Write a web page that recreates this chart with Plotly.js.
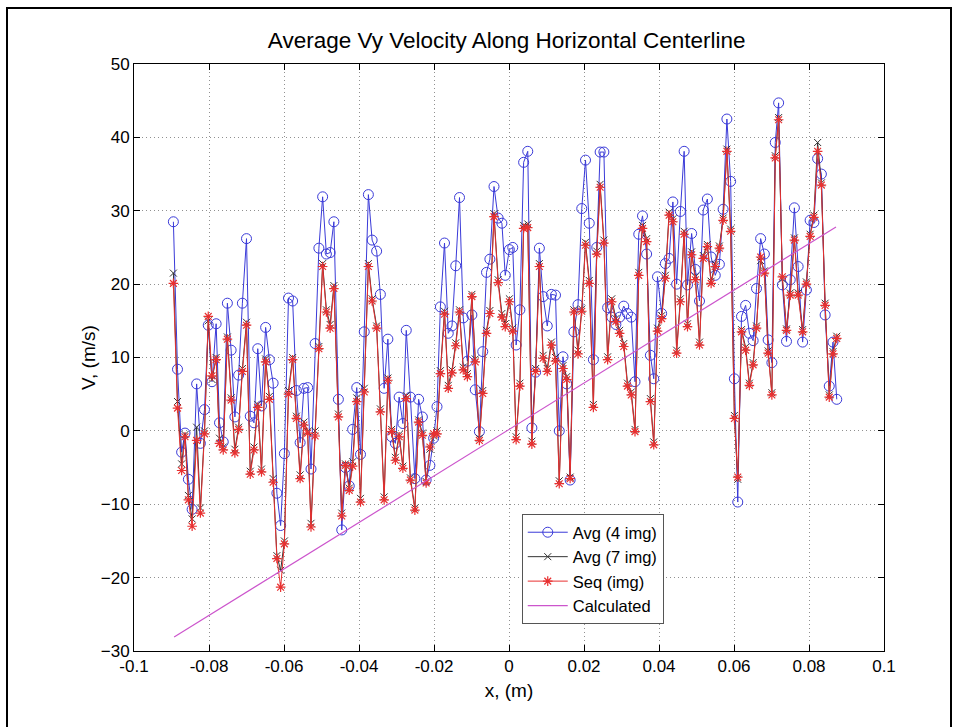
<!DOCTYPE html>
<html><head><meta charset="utf-8">
<script src="https://cdn.plot.ly/plotly-3.0.1.min.js"></script>
<style>
html,body{margin:0;padding:0;background:#fff;}
#frame{position:absolute;left:6px;top:7px;width:946px;height:740px;border:2px solid #000;box-sizing:border-box;pointer-events:none;z-index:5;}
#chart{position:absolute;left:0;top:0;width:959px;height:727px;}
</style>
</head><body>
<div id="chart"></div><div id="frame"></div>
<script>
// x positions along the centerline (m)
const xPos = [-0.0895,-0.0884,-0.0873,-0.0864,-0.0855,-0.0845,-0.0833,-0.0823,-0.0812,-0.0802,
-0.0792,-0.0781,-0.0772,-0.0762,-0.0751,-0.0741,-0.0731,-0.0721,-0.0711,-0.0700,
-0.0690,-0.0680,-0.0670,-0.0660,-0.0649,-0.0639,-0.0629,-0.0619,-0.0609,-0.0599,
-0.0588,-0.0577,-0.0567,-0.0557,-0.0547,-0.0537,-0.0528,-0.0517,-0.0507,-0.0497,
-0.0487,-0.0477,-0.0467,-0.0455,-0.0446,-0.0436,-0.0426,-0.0417,-0.0406,-0.0396,
-0.0386,-0.0375,-0.0365,-0.0353,-0.0343,-0.0333,-0.0323,-0.0313,-0.0303,-0.0293,
-0.0283,-0.0274,-0.0263,-0.0251,-0.0241,-0.0231,-0.0221,-0.0211,-0.0201,-0.0192,
-0.0183,-0.0172,-0.0162,-0.0152,-0.0142,-0.0132,-0.0122,-0.0111,-0.0099,-0.0090,
-0.0079,-0.0070,-0.0060,-0.0051,-0.0040,-0.0029,-0.0019,-0.0010,0.0001,0.0010,
0.0019,0.0029,0.0039,0.0050,0.0061,0.0071,0.0081,0.0091,0.0102,0.0113,
0.0124,0.0134,0.0144,0.0154,0.0163,0.0173,0.0184,0.0194,0.0204,0.0214,
0.0225,0.0234,0.0243,0.0253,0.0263,0.0274,0.0285,0.0295,0.0306,0.0316,
0.0326,0.0336,0.0346,0.0356,0.0367,0.0377,0.0386,0.0396,0.0407,0.0417,
0.0427,0.0437,0.0447,0.0457,0.0467,0.0476,0.0487,0.0497,0.0508,0.0518,
0.0529,0.0539,0.0550,0.0561,0.0571,0.0581,0.0591,0.0601,0.0610,0.0620,
0.0631,0.0641,0.0651,0.0660,0.0671,0.0681,0.0691,0.0701,0.0710,0.0719,
0.0729,0.0740,0.0750,0.0761,0.0771,0.0783,0.0793,0.0803,0.0813,0.0823,
0.0833,0.0843,0.0854,0.0864,0.0874];

// Avg (4 img)
const avg4 = [28.5,8.4,-2.9,-0.3,-6.6,-10.7,6.4,-1.7,2.9,14.4,
6.7,14.6,1.1,-1.5,17.4,11.0,1.9,7.6,17.4,26.2,
2.0,1.1,11.2,3.4,14.1,9.7,6.5,-8.5,-12.9,-3.1,
18.1,17.7,5.5,-1.6,5.8,5.9,-5.2,11.9,24.9,31.9,
24.1,24.3,28.5,4.3,-13.5,-5.0,-7.5,0.2,5.9,-3.2,
13.5,32.2,26.0,24.5,18.6,5.8,12.5,-0.8,-1.7,4.6,
1.0,13.7,4.6,-6.5,4.3,1.9,-6.7,-4.7,-1.0,3.3,
16.9,25.6,13.3,14.3,22.5,31.8,15.4,9.5,15.8,5.6,
-0.1,10.8,21.6,23.4,33.3,29.0,28.3,21.2,24.7,25.0,
11.7,16.5,36.6,38.1,0.4,8.0,24.9,18.3,14.3,18.6,
18.5,0.0,10.1,6.4,-6.7,13.5,17.2,30.3,36.9,28.3,
9.7,25.0,38.0,38.0,16.8,15.5,14.5,15.5,17.0,16.0,
15.5,6.7,26.8,29.3,24.1,10.3,7.1,21.0,16.0,22.8,
23.5,31.2,20.0,29.9,38.1,19.9,26.9,22.0,17.7,30.1,
31.6,23.7,21.2,22.7,30.2,42.5,34.0,7.1,-9.7,15.6,
17.1,13.3,12.3,19.4,26.2,24.1,12.4,9.3,39.3,44.7,
19.9,12.2,20.6,30.4,22.4,12.1,19.2,28.7,28.4,37.1,
35.0,15.8,6.1,12.1,4.3];

// Avg (7 img)
const avg7 = [21.5,4.0,-4.5,-0.5,-8.8,-12.0,0.5,-10.5,0.0,15.0,
7.0,10.0,-1.0,-2.2,12.8,4.5,-2.5,0.5,8.5,14.8,
-5.5,-2.2,3.6,-5.2,9.8,4.7,-6.5,-17.0,-19.0,-15.0,
5.5,10.0,2.0,-6.0,1.2,-0.1,-12.6,0.0,11.5,22.8,
16.5,14.5,19.8,2.3,-11.2,-4.5,-7.8,-4.2,4.5,-9.2,
5.8,22.8,18.0,14.3,3.0,-9.0,7.2,0.2,-3.6,-0.5,
-4.8,4.8,-6.4,-10.5,1.5,-0.3,-6.9,-2.5,-0.7,0.0,
8.2,16.3,6.2,8.3,12.0,16.5,8.7,7.8,18.6,9.8,
-1.0,5.5,13.7,16.4,29.6,20.6,16.0,14.6,18.0,14.0,
-0.8,6.5,28.0,28.2,-1.4,8.5,22.8,10.3,8.5,12.1,
10.0,-6.8,8.9,7.4,-6.3,16.5,11.0,16.6,25.7,20.5,
3.6,24.5,33.6,26.0,10.1,18.0,15.3,13.7,11.9,6.5,
5.3,0.2,21.6,28.0,26.2,4.4,-1.5,14.0,15.7,21.2,
29.8,28.9,11.0,18.0,27.2,14.6,24.4,21.0,12.1,23.9,
25.4,20.4,22.7,25.2,29.0,38.4,27.5,2.1,-6.6,13.8,
11.4,6.5,9.3,14.3,23.2,21.8,10.9,5.2,37.5,42.7,
20.7,13.9,18.8,26.3,18.8,13.8,20.3,26.8,29.4,39.3,
33.8,17.4,4.9,10.8,12.9];

// Seq (img)
const seq = [20.1,3.1,-5.4,-0.8,-9.4,-13.0,-1.3,-11.2,-0.4,15.6,
7.5,9.7,-1.7,-2.6,12.5,4.2,-3.0,0.2,8.1,14.4,
-5.9,-2.6,3.2,-5.6,9.4,4.3,-7.0,-17.4,-21.3,-15.4,
5.0,9.7,1.7,-6.5,0.8,-0.3,-13.1,-0.7,11.2,22.4,
16.2,14.0,19.4,1.9,-11.6,-4.7,-8.1,-4.8,4.0,-9.7,
5.3,22.4,17.7,14.0,2.6,-9.4,6.9,-0.1,-4.0,-0.8,
-5.1,4.4,-6.7,-10.8,1.2,-0.6,-7.1,-2.2,-0.4,-0.4,
7.8,15.9,5.8,7.9,11.6,16.2,8.3,7.4,18.3,9.4,
-1.3,5.1,13.3,16.0,29.2,20.2,15.5,14.2,17.6,13.6,
-1.2,6.1,27.6,27.7,-1.8,8.1,22.4,9.9,8.1,11.7,
9.5,-7.2,8.5,7.0,-6.5,16.2,10.5,16.3,25.3,20.1,
3.2,24.1,33.2,25.6,9.7,17.6,14.9,13.3,11.5,6.1,
4.9,-0.1,21.2,27.6,25.8,4.0,-1.9,13.6,15.3,20.8,
29.4,28.5,10.6,17.6,26.8,14.2,24.0,20.6,11.7,23.5,
25.1,20.1,22.4,24.9,28.7,38.1,27.2,1.7,-6.3,13.5,
11.0,6.2,9.0,14.0,23.7,21.5,10.6,4.9,37.2,42.4,
21.0,13.7,18.5,26.0,18.5,13.5,20.0,26.5,29.1,38.1,
33.5,17.1,4.6,10.5,12.6];

const calcX = [-0.0893, 0.0872];
const calcY = [-28.1, 27.8];

const xTicks = [-0.1,-0.08,-0.06,-0.04,-0.02,0,0.02,0.04,0.06,0.08,0.1];
const xTickText = ['-0.1','-0.08','-0.06','-0.04','-0.02','0','0.02','0.04','0.06','0.08','0.1'];
const yTicks = [-30,-20,-10,0,10,20,30,40,50];

const F = 'Liberation Sans, Arial, Helvetica, sans-serif';

const traces = [
  {x:xPos, y:avg4, name:'Avg (4 img)', type:'scatter', mode:'lines+markers',
   line:{color:'#3a3ad8', width:1},
   marker:{symbol:'circle-open', size:10, color:'#3a3ad8', line:{width:1, color:'#3a3ad8'}}},
  {x:xPos, y:avg7, name:'Avg (7 img)', type:'scatter', mode:'lines+markers',
   line:{color:'#333', width:1},
   marker:{symbol:'x-thin-open', size:7, color:'#333', line:{width:1, color:'#333'}}},
  {x:xPos, y:seq, name:'Seq (img)', type:'scatter', mode:'lines+markers',
   line:{color:'#e83030', width:1},
   marker:{symbol:'asterisk-open', size:8, color:'#e83030', line:{width:1.2, color:'#e83030'}}},
  {x:calcX, y:calcY, name:'Calculated', type:'scatter', mode:'lines',
   line:{color:'#cc55cc', width:1.2}}
];

const axisCommon = {
  showline:true, linecolor:'#000', linewidth:1, mirror:'ticks',
  ticks:'inside', ticklen:6, tickcolor:'#000',
  showgrid:true, gridcolor:'#909090', griddash:'1px,3px', gridwidth:1,
  zeroline:false, tickfont:{family:F, size:17, color:'#000'}
};

const layout = {
  width:959, height:727,
  paper_bgcolor:'#fff', plot_bgcolor:'#fff',
  margin:{l:134, r:75, t:64, b:76},
  showlegend:true,
  title:{text:'Average Vy Velocity Along Horizontal Centerline', x:0.497, xanchor:'center', xref:'paper', y:0.945, yanchor:'middle',
         font:{family:F, size:22.5, color:'#000'}},
  xaxis:Object.assign({}, axisCommon, {range:[-0.1,0.1], tickvals:xTicks, ticktext:xTickText,
         title:{text:'x, (m)', font:{family:F, size:19, color:'#000'}, standoff:8}}),
  yaxis:Object.assign({}, axisCommon, {range:[-30,50], tickvals:yTicks,
         title:{text:'V, (m/s)', font:{family:F, size:19, color:'#000'}, standoff:0}}),
  legend:{x:0.517, y:0.2334, xanchor:'left', yanchor:'top', bgcolor:'#fff', bordercolor:'#555', borderwidth:1,
          font:{family:F, size:16.5, color:'#000'}, tracegroupgap:0, itemwidth:40}
};

Plotly.newPlot('chart', traces, layout, {displayModeBar:false, staticPlot:true});
</script>
</body></html>
